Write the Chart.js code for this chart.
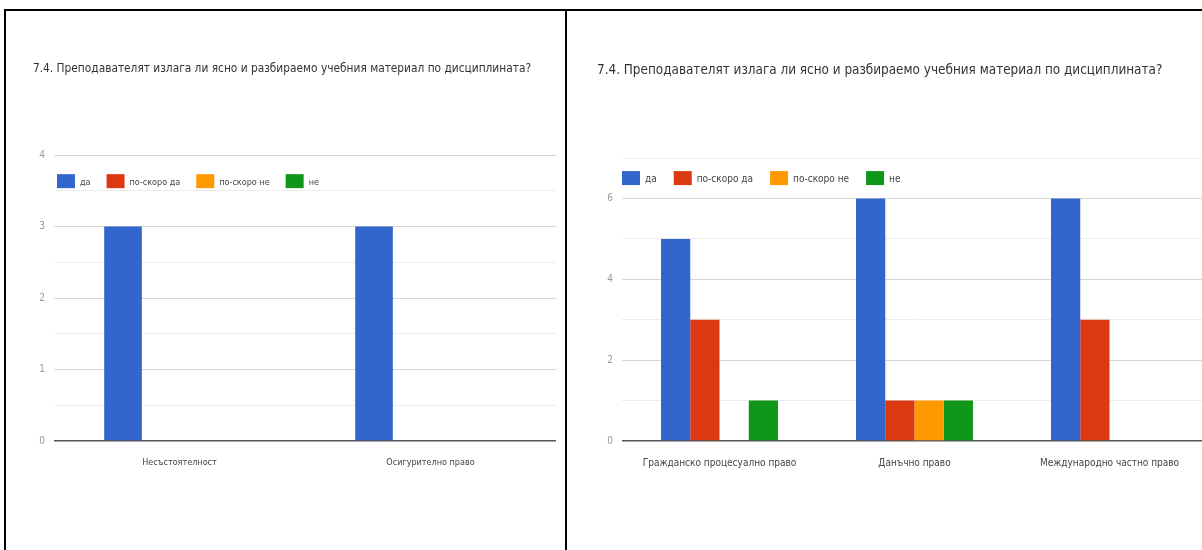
<!DOCTYPE html>
<html>
<head>
<meta charset="utf-8">
<script src="https://cdn.jsdelivr.net/npm/chart.js@4/dist/chart.umd.min.js"></script>
<style>
  body { margin: 0; background: #fff; }
  #page { position: relative; width: 1202px; height: 550px; overflow: hidden; }
  #top-line { position: absolute; left: 4px; top: 9px; width: 1198px; height: 2px; background: #000; }
  #left-line { position: absolute; left: 4px; top: 9px; width: 2px; height: 541px; background: #000; }
  #mid-line { position: absolute; left: 565px; top: 9px; width: 2px; height: 541px; background: #000; }
  .panel { position: absolute; top: 11px; height: 539px; overflow: hidden; }
  #panel-left { left: 6px; width: 559px; }
  #panel-right { left: 567px; width: 635px; }
</style>
</head>
<body>
<div id="page">
  <div id="top-line"></div>
  <div id="left-line"></div>
  <div id="mid-line"></div>
  <div class="panel" id="panel-left"><canvas id="chart-left" width="559" height="539"></canvas></div>
  <div class="panel" id="panel-right"><canvas id="chart-right" width="650" height="539"></canvas></div>
</div>
<script>
	var chartTitle = '7.4. Преподавателят излага ли ясно и разбираемо учебния материал по дисциплината?';
	var seriesNames = ['да', 'по-скоро да', 'по-скоро не', 'не'];
	var seriesColors = ['#3366cc', '#dc3912', '#ff9900', '#109618'];

	// left chart
	var leftCategories = ['Несъстоятелност', 'Осигурително право'];
	var leftDa = [3, 3];
	var leftPoSkoroDa = [0, 0];
	var leftPoSkoroNe = [0, 0];
	var leftNe = [0, 0];
	var leftTicks = [0, 1, 2, 3, 4];

	// right chart
	var rightCategories = ['Гражданско процесуално право', 'Данъчно право', 'Международно частно право'];
	var rightDa = [5, 6, 6];
	var rightPoSkoroDa = [3, 1, 3];
	var rightPoSkoroNe = [0, 1, 0];
	var rightNe = [1, 1, 0];
	var rightTicks = [0, 2, 4, 6];

	var fontFamily = "'Liberation Sans Narrow', 'DejaVu Sans Condensed', sans-serif";

	// legend drawn inside the plot, under the top gridline (like google forms)
	var insideLegend = {
		id: 'insideLegend',
		afterDraw: function(chart, args, opts) {
			var ctx = chart.ctx,
					x = chart.chartArea.left + opts.offsetX,
					y = chart.chartArea.top + opts.offsetY;
			ctx.save();
			ctx.font = opts.fontSize + 'px ' + fontFamily;
			ctx.textBaseline = 'middle';
			chart.data.datasets.forEach(function(ds) {
				ctx.fillStyle = ds.backgroundColor;
				ctx.fillRect(x, y - 7, 18, 14);
				x += 18 + 5;
				ctx.fillStyle = '#444';
				ctx.fillText(ds.label, x, y + 1);
				x += ctx.measureText(ds.label).width + opts.gap;
			});
			ctx.restore();
		}
	};

	function makeDatasets(values) {
		return seriesNames.map(function(name, i) {
			return {
				label: name,
				data: values[i],
				backgroundColor: seriesColors[i],
				categoryPercentage: 0.6,
				barPercentage: 1
			};
		});
	}

	function makeChart(canvasId, categories, values, ticks, cfg) {
		var ctx = document.getElementById(canvasId).getContext('2d');
		return new Chart(ctx, {
			type: 'bar',
			data: {
				labels: categories,
				datasets: makeDatasets(values)
			},
			plugins: [insideLegend],
			options: {
				responsive: false,
				animation: false,
				layout: { padding: { left: cfg.padLeft, right: cfg.padRight, top: 0, bottom: 0 } },
				plugins: {
					legend: { display: false },
					tooltip: { enabled: false },
					title: {
						display: true,
						text: chartTitle,
						align: 'start',
						color: '#333',
						font: { family: fontFamily, size: cfg.titleSize, weight: 'normal' },
						padding: { top: 51, bottom: cfg.titleBottom }
					},
					insideLegend: { offsetX: cfg.legendX, offsetY: cfg.legendY, gap: cfg.legendGap, fontSize: cfg.smallSize }
				},
				scales: {
					x: {
						grid: { display: false, drawTicks: false },
						border: { display: false },
						ticks: { color: '#444', padding: 16, font: { family: fontFamily, size: cfg.smallSize } },
						afterFit: function(s) { s.height = 109; }
					},
					y: {
						min: 0,
						max: cfg.max,
						grid: {
							drawTicks: false,
							color: function(c) {
								if (c.tick.value === 0) return '#555';
								return ticks.indexOf(c.tick.value) >= 0 ? '#d6d6d6' : '#ececec';
							},
							lineWidth: function(c) { return c.tick.value === 0 ? 1.5 : 1; }
						},
						border: { display: false },
						ticks: {
							stepSize: cfg.step,
							padding: 9,
							color: '#999',
							font: { family: fontFamily, size: 10 },
							callback: function(v) { return ticks.indexOf(v) >= 0 ? v : ''; }
						},
						afterFit: function(s) { s.width = cfg.axisWidth; }
					}
				}
			}
		});
	}

	makeChart('chart-left', leftCategories, [leftDa, leftPoSkoroDa, leftPoSkoroNe, leftNe], leftTicks, {
		padLeft: 27, padRight: 9, axisWidth: 21, max: 4, step: 0.5,
		titleSize: 11.8, titleBottom: 79, smallSize: 9, legendX: 3, legendY: 26, legendGap: 16
	});

	makeChart('chart-right', rightCategories, [rightDa, rightPoSkoroDa, rightPoSkoroNe, rightNe], rightTicks, {
		padLeft: 30, padRight: 10, axisWidth: 25, max: 7, step: 1,
		titleSize: 13.4, titleBottom: 80, smallSize: 10, legendX: 0, legendY: 20, legendGap: 17
	});
</script>
</body>
</html>
